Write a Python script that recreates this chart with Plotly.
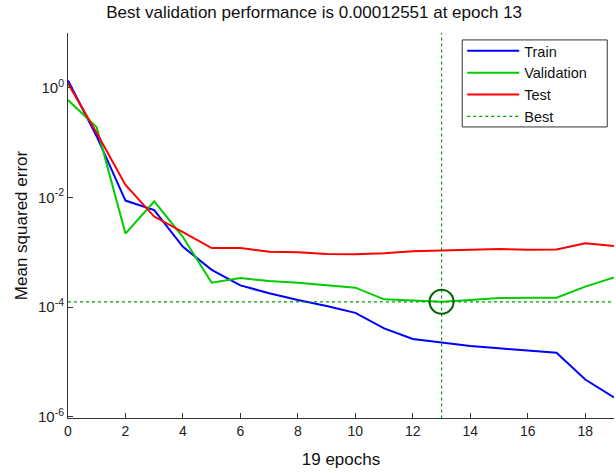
import plotly.graph_objects as go

epochs = list(range(20))
train = [1.36, 0.13, 8.8e-3, 5.9e-3, 1.26e-3, 4.8e-4, 2.5e-4, 1.8e-4, 1.35e-4, 1.05e-4,
         7.9e-5, 4.1e-5, 2.63e-5, 2.25e-5, 1.96e-5, 1.78e-5, 1.61e-5, 1.48e-5, 4.8e-6, 2.27e-6]
validation = [0.6, 0.19, 2.2e-3, 8.5e-3, 1.9e-3, 2.8e-4, 3.4e-4, 3.0e-4, 2.8e-4, 2.54e-4,
              2.27e-4, 1.39e-4, 1.34e-4, 1.2551e-4, 1.35e-4, 1.47e-4, 1.49e-4, 1.49e-4, 2.37e-4, 3.5e-4]
test = [1.2, 0.15, 0.017, 4.5e-3, 2.35e-3, 1.2e-3, 1.2e-3, 1.03e-3, 1.0e-3, 9.3e-4,
        9.2e-4, 9.6e-4, 1.05e-3, 1.09e-3, 1.1e-3, 1.15e-3, 1.12e-3, 1.13e-3, 1.47e-3, 1.31e-3]
best_epoch = 13
best_perf = 0.00012551

xtick_vals = list(range(0, 19, 2))
ytick_vals = [1, 1e-2, 1e-4, 1e-6]
ytick_text = ["10<sup>0</sup>", "10<sup>-2</sup>", "10<sup>-4</sup>", "10<sup>-6</sup>"]

fig = go.Figure()
fig.add_trace(go.Scatter(x=epochs, y=train, mode="lines", name="Train",
                         line=dict(color="#0000ff", width=2)))
fig.add_trace(go.Scatter(x=epochs, y=validation, mode="lines", name="Validation",
                         line=dict(color="#00cc00", width=2)))
fig.add_trace(go.Scatter(x=epochs, y=test, mode="lines", name="Test",
                         line=dict(color="#ff0000", width=2)))
fig.add_trace(go.Scatter(x=[epochs[0], epochs[-1], None, best_epoch, best_epoch],
                         y=[best_perf, best_perf, None, 1e-8, 1e3], mode="lines", name="Best",
                         line=dict(color="#00a000", width=1.2, dash="3px,3px")))
fig.add_trace(go.Scatter(x=[best_epoch], y=[best_perf], mode="markers", showlegend=False,
                         marker=dict(symbol="circle-open", size=24, color="#006400",
                                     line=dict(width=2, color="#006400"))))

fig.update_layout(
    width=616, height=473,
    margin=dict(l=68, r=2, t=33, b=55),
    paper_bgcolor="white", plot_bgcolor="white",
    font=dict(family="Liberation Sans, Arial, sans-serif", size=14, color="#222222"),
    title=dict(text="Best validation performance is 0.00012551 at epoch 13",
               x=0.51, xanchor="center", y=0.975, yanchor="middle",
               font=dict(size=17, color="#111111")),
    showlegend=True,
    legend=dict(x=0.722, y=0.995, xanchor="left", yanchor="top",
                bgcolor="rgba(0,0,0,0)", borderwidth=0,
                font=dict(size=14.5, color="#111111"), tracegroupgap=0, itemwidth=52),
    shapes=[dict(type="rect", xref="paper", yref="paper",
                 x0=0.722, x1=0.9876, y0=0.756, y1=0.982,
                 line=dict(color="#333333", width=1), fillcolor="rgba(0,0,0,0)")],
)
fig.update_xaxes(range=[0, 19], tickvals=xtick_vals, ticks="inside", ticklen=5,
                 showline=True, linecolor="#333333", linewidth=1, showgrid=False,
                 zeroline=False, tickcolor="#333333", automargin=False,
                 tickfont=dict(size=14),
                 title=dict(text="19 epochs", font=dict(size=17, color="#111111"), standoff=15))
fig.update_yaxes(type="log", range=[-6.02, 1.0], tickvals=ytick_vals, ticktext=ytick_text,
                 ticks="inside", ticklen=5, showline=True, linecolor="#333333", linewidth=1,
                 showgrid=False, zeroline=False, tickcolor="#333333", automargin=False,
                 tickfont=dict(size=15),
                 title=dict(text="Mean squared error", font=dict(size=17, color="#111111"), standoff=6))

fig.write_html("out.html", config={"displayModeBar": False},
               post_script="document.body.style.margin='0';")
